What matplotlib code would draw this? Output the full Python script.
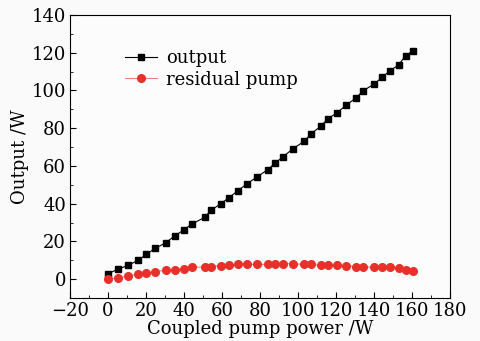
import numpy as np
import matplotlib
matplotlib.use("Agg")
import matplotlib.pyplot as plt
from matplotlib.ticker import MultipleLocator

plt.rcParams['font.family'] = ['DejaVu Serif']
plt.rcParams['mathtext.fontset'] = 'dejavuserif'

# coupled pump power (W)
pump = [0, 5.3, 10.6, 15.9, 20.1, 24.9, 30.2, 35, 39.7, 44, 50.9, 54, 59.3, 63.6,
        68.3, 73.1, 78.6, 84, 88, 92.2, 97.1, 103.2, 106.9, 112, 115.7, 120.4,
        125.4, 130.3, 134.2, 140, 144.1, 148.2, 152.9, 156.5, 160.4]
# laser output (W)
output = [3.0, 5.3, 7.4, 10.0, 13.2, 16.4, 19.2, 22.9, 26.0, 29.2, 32.8, 36.4,
          40.0, 43.2, 46.9, 50.6, 54.3, 58.1, 61.6, 65.0, 69.0, 73.1, 77.1, 81.2,
          85.0, 88.2, 92.3, 96.0, 99.8, 103.5, 106.9, 110.4, 113.6, 118.5, 121.0]
# residual pump (W)
residual = [0.0, 0.7, 1.8, 2.5, 3.2, 4.0, 4.6, 4.9, 5.6, 6.2, 6.5, 6.7, 7.2, 7.6,
            7.8, 7.8, 7.8, 7.8, 7.9, 8.3, 8.1, 7.9, 7.8, 7.4, 7.4, 7.4, 7.0, 6.7,
            6.5, 6.3, 6.5, 6.3, 6.0, 4.9, 4.2]

fig = plt.figure(figsize=(4.8, 3.41), dpi=100, facecolor='#fafafa')
ax = fig.add_axes([0.146, 0.126, 0.792, 0.830], facecolor='#fcfcfc')

ax.plot(pump, output, '-s', color='black', lw=0.8, ms=4.8, label='output')
ax.plot(pump, residual, '-o', color='#f08080', lw=0.8, ms=5.5,
        mfc='#e8302a', mec='#e8302a', label='residual pump')

ax.set_xlim(-20, 180)
ax.set_ylim(-10, 140)
ax.xaxis.set_major_locator(MultipleLocator(20))
ax.xaxis.set_minor_locator(MultipleLocator(10))
ax.yaxis.set_major_locator(MultipleLocator(20))
ax.yaxis.set_minor_locator(MultipleLocator(10))
ax.tick_params(which='both', direction='in', top=False, right=False, labelsize=13)
ax.tick_params(which='major', length=4, pad=3)
ax.tick_params(which='minor', length=2.5)

ax.set_xlabel('Coupled pump power /W', fontsize=13, labelpad=0)
ax.set_ylabel('Output /W', fontsize=13, labelpad=2)

ax.legend(loc='upper left', bbox_to_anchor=(0.125, 0.905), frameon=False,
          fontsize=13, handlelength=1.8, handletextpad=0.5, labelspacing=0.2,
          borderaxespad=0)

fig.savefig('out.png', dpi=100, facecolor=fig.get_facecolor())
